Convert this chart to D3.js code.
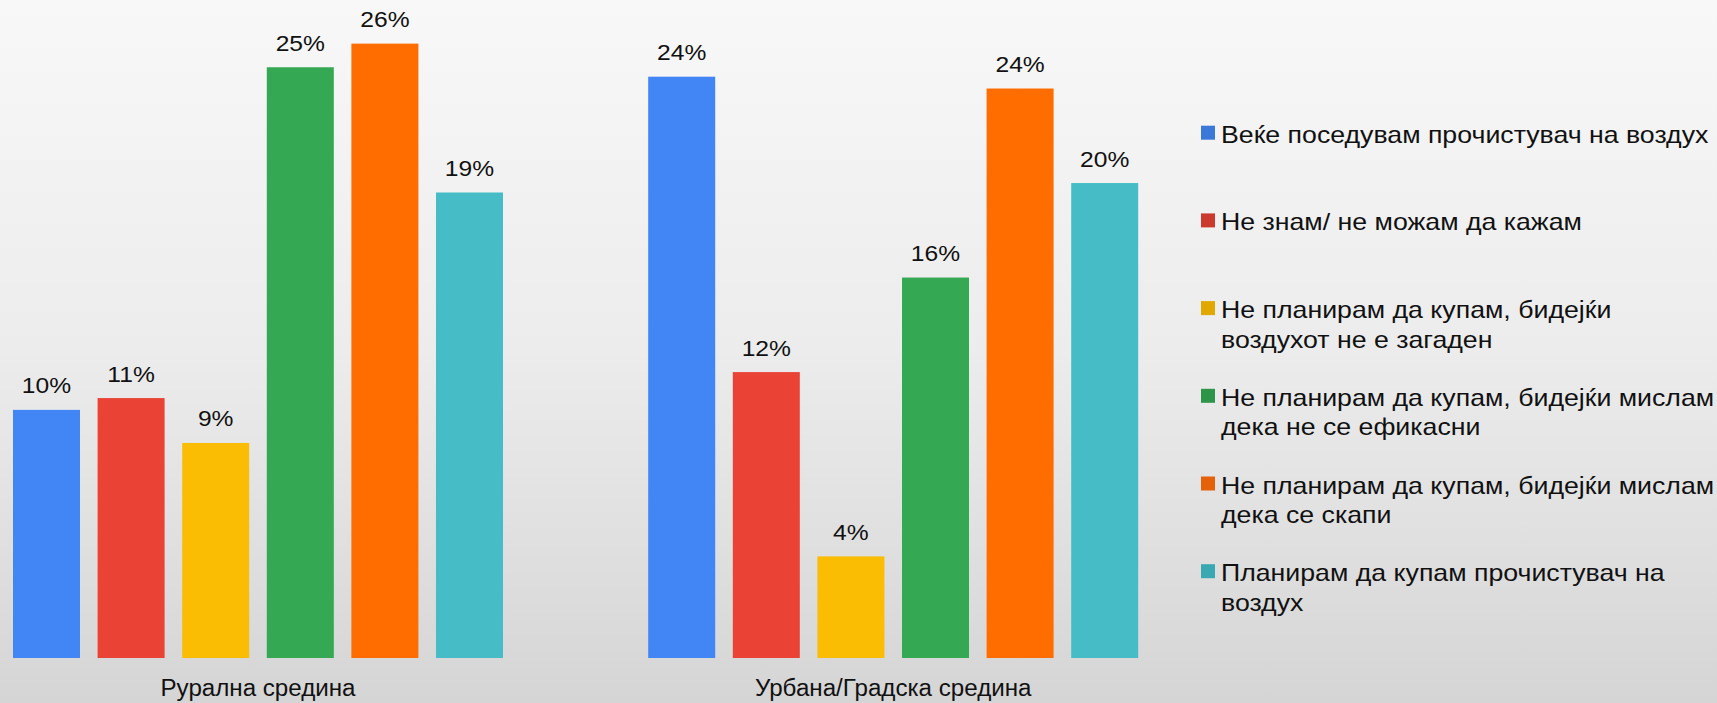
<!DOCTYPE html>
<html>
<head>
<meta charset="utf-8">
<script src="https://cdn.jsdelivr.net/npm/d3@7"></script>
<style>
  html, body { margin: 0; padding: 0; overflow: hidden; }
  body { width: 1717px; height: 703px; }
  text { font-family: "Liberation Sans", Arial, sans-serif; fill: #111; }
</style>
</head>
<body>
<svg id="chart" width="1717" height="703"></svg>
<script>
const categories = ["Рурална средина", "Урбана/Градска средина"];
const seriesNames = [
  "Веќе поседувам прочистувач на воздух",
  "Не знам/ не можам да кажам",
  "Не планирам да купам, бидејќи\nвоздухот не е загаден",
  "Не планирам да купам, бидејќи мислам\nдека не се ефикасни",
  "Не планирам да купам, бидејќи мислам\nдека се скапи",
  "Планирам да купам прочистувач на\nвоздух"
];
const ruralValues = [10.5, 11.0, 9.1, 25.0, 26.0, 19.7];
const urbanValues = [24.6, 12.1, 4.3, 16.1, 24.1, 20.1];
const ruralLabels = ["10%", "11%", "9%", "25%", "26%", "19%"];
const urbanLabels = ["24%", "12%", "4%", "16%", "24%", "20%"];
const barColors = ["#4285f4", "#ea4335", "#fbbc04", "#34a853", "#ff6d01", "#46bdc6"];
const legendColors = ["#3c78d8", "#cc3a2f", "#e0a800", "#2e9548", "#e5620a", "#3aa8b0"];

const values = [ruralValues, urbanValues];
const labels = [ruralLabels, urbanLabels];

const svg = d3.select("#chart");
const W = 1717, H = 703;

// background gradient
const defs = svg.append("defs");
const grad = defs.append("linearGradient").attr("id", "bg").attr("x1", 0).attr("y1", 0).attr("x2", 0).attr("y2", 1);
grad.append("stop").attr("offset", "0%").attr("stop-color", "#f8f8f8");
grad.append("stop").attr("offset", "50%").attr("stop-color", "#ececec");
grad.append("stop").attr("offset", "100%").attr("stop-color", "#d5d5d5");
svg.append("rect").attr("width", W).attr("height", H).attr("fill", "url(#bg)");

const x0 = d3.scaleBand().domain(categories).range([4.2, 1147]).paddingInner(0.2009).paddingOuter(0);
const x1 = d3.scaleBand().domain(d3.range(seriesNames.length)).range([0, x0.bandwidth()]).paddingInner(0.208).paddingOuter(0.104);
const y = d3.scaleLinear().domain([0, 30]).range([658, 658 - 23.63 * 30]);

const groups = svg.selectAll("g.grp").data(categories).join("g")
  .attr("class", "grp")
  .attr("transform", d => `translate(${x0(d)},0)`);

groups.each(function(cat, gi) {
  const g = d3.select(this);
  const data = values[gi].map((v, i) => ({ v, i, label: labels[gi][i] }));
  g.selectAll("rect").data(data).join("rect")
    .attr("x", d => x1(d.i))
    .attr("y", d => y(d.v))
    .attr("width", x1.bandwidth())
    .attr("height", d => y(0) - y(d.v))
    .attr("fill", d => barColors[d.i]);
  g.selectAll("text.val").data(data).join("text")
    .attr("class", "val")
    .attr("text-anchor", "middle")
    .attr("transform", d => `translate(${x1(d.i) + x1.bandwidth() / 2},${y(d.v) - 16.5}) scale(1.12,1)`)
    .style("font-size", "22px")
    .text(d => d.label);
});

// category axis labels
const xAxis = d3.axisBottom(x0).tickSize(0).tickPadding(0);
const axisG = svg.append("g").attr("transform", "translate(0,674)").call(xAxis);
axisG.select(".domain").remove();
axisG.selectAll("text")
  .style("font-size", "23px")
  .style("font-family", "'Liberation Sans', Arial, sans-serif")
  .attr("fill", "#111")
  .attr("dy", "0.95em")
  .attr("transform", "scale(1.05,1)");

// legend
const legend = svg.append("g").attr("transform", "translate(1201,125.7)");
const items = legend.selectAll("g").data(seriesNames).join("g")
  .attr("transform", (d, i) => `translate(0,${i * 87.7})`);
items.append("rect").attr("width", 14).attr("height", 14).attr("fill", (d, i) => legendColors[i]);
items.each(function(name) {
  const t = d3.select(this).append("text")
    .attr("transform", "translate(20,17) scale(1.113,1)")
    .style("font-size", "24px");
  name.split("\n").forEach((line, li) => {
    t.append("tspan").attr("x", 0).attr("dy", li === 0 ? 0 : 29.5).text(line);
  });
});
</script>
</body>
</html>
